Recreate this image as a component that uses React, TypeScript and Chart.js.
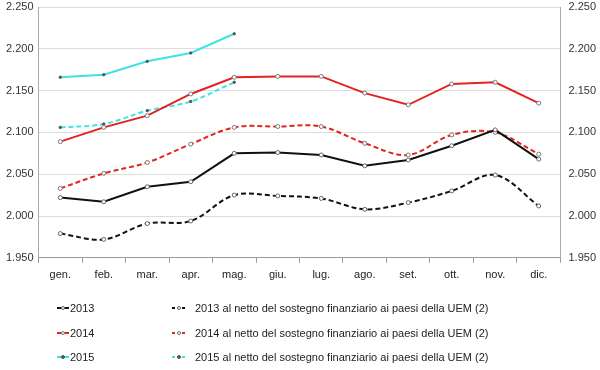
import React, { useEffect, useRef } from "react";
import { Chart, registerables } from "chart.js";

Chart.register(...registerables);

const months = ["gen.", "feb.", "mar.", "apr.", "mag.", "giu.", "lug.", "ago.", "set.", "ott.", "nov.", "dic."];
const y2013 = [2022, 2017, 2035, 2041, 2075, 2076, 2073, 2060, 2067, 2084, 2103, 2068];
const y2014 = [2089, 2106, 2120, 2146, 2166, 2167, 2167, 2147, 2133, 2158, 2160, 2135];
const y2015 = [2166, 2169, 2185, 2195, 2218, null, null, null, null, null, null, null];
const n2013 = [1979, 1972, 1991, 1994, 2025, 2024, 2021, 2008, 2016, 2030, 2049, 2012];
const n2014 = [2033, 2051, 2064, 2086, 2106, 2107, 2107, 2087, 2073, 2097, 2100, 2074];
const n2015 = [2106, 2110, 2126, 2137, 2160, null, null, null, null, null, null, null];
const labels = [
  "2013",
  "2014",
  "2015",
  "2013 al netto del sostegno finanziario ai paesi della UEM (2)",
  "2014 al netto del sostegno finanziario ai paesi della UEM (2)",
  "2015 al netto del sostegno finanziario ai paesi della UEM (2)",
];

const BLACK = "#111111";
const RED = "#e2231f";
const CYAN = "#3fe3e3";

const fmt = (v: number) => {
  const t = Math.floor(v / 1000);
  const r = Math.round(v - t * 1000);
  return t + "." + String(r).padStart(3, "0");
};

const legendPlugin = {
  id: "customLegend",
  afterDraw(chart: any) {
    const ctx = chart.ctx;
    const ds = chart.data.datasets;
    const rows = [308, 333, 357];
    ctx.save();
    ctx.font = "11px Arial, 'Liberation Sans', sans-serif";
    ctx.textBaseline = "middle";
    ctx.fillStyle = "#222";
    ds.forEach((d: any, i: number) => {
      const col = i < 3 ? 0 : 1;
      const row = i % 3;
      const y = rows[row];
      const x0 = col === 0 ? 57 : 172;
      const x1 = col === 0 ? 69 : 186;
      ctx.strokeStyle = d.borderColor;
      ctx.lineWidth = 2;
      ctx.setLineDash(d.borderDash && d.borderDash.length ? [3, 2] : []);
      ctx.beginPath();
      ctx.moveTo(x0, y);
      ctx.lineTo(x1, y);
      ctx.stroke();
      ctx.setLineDash([]);
      ctx.beginPath();
      ctx.arc((x0 + x1) / 2, y, 1.5, 0, Math.PI * 2);
      ctx.fillStyle = d.pointBackgroundColor;
      ctx.fill();
      ctx.lineWidth = 1;
      ctx.strokeStyle = d.pointBorderColor;
      ctx.stroke();
      ctx.fillStyle = "#222";
      ctx.fillText(d.label, col === 0 ? 70 : 195, y + 1);
    });
    ctx.restore();
  },
};

const noVPad = (scale: any) => {
  scale.paddingTop = 0;
  scale.paddingBottom = 0;
};

export default function App() {
  const ref = useRef<HTMLCanvasElement | null>(null);
  useEffect(() => {
    document.body.style.margin = "0";
    const mk = (label: string, data: any[], color: string, dashed: boolean, pbg: string, pbc: string, r: number) => ({
      label,
      data,
      borderColor: color,
      backgroundColor: color,
      borderWidth: 2,
      borderDash: dashed ? [5, 3] : [],
      tension: dashed ? 0.35 : 0,
      pointRadius: r,
      pointBackgroundColor: pbg,
      pointBorderColor: pbc,
      pointBorderWidth: 1,
      spanGaps: false,
      yAxisID: "y",
    });
    const chart = new Chart(ref.current as HTMLCanvasElement, {
      type: "line",
      data: {
        labels: months,
        datasets: [
          mk(labels[0], y2013, BLACK, false, "#ffffff", "#666666", 2),
          mk(labels[1], y2014, RED, false, "#ffffff", "#777777", 2),
          mk(labels[2], y2015, CYAN, false, "#555555", "#555555", 1.2),
          mk(labels[3], n2013, BLACK, true, "#ffffff", "#666666", 2),
          mk(labels[4], n2014, RED, true, "#ffffff", "#777777", 2),
          mk(labels[5], n2015, CYAN, true, "#555555", "#555555", 1.2),
        ],
      },
      options: {
        animation: false,
        responsive: false,
        maintainAspectRatio: false,
        layout: { padding: { left: 1, right: -4, top: 7, bottom: 82 } },
        plugins: { legend: { display: false }, tooltip: { enabled: false } },
        scales: {
          x: {
            offset: true,
            grid: { display: true, drawOnChartArea: false, drawTicks: true, tickLength: 5, color: "#999999", offset: true },
            border: { display: true, color: "#999999" },
            ticks: { color: "#222", font: { family: "Arial, 'Liberation Sans', sans-serif", size: 11 }, padding: 6, maxRotation: 0, autoSkip: false },
          },
          y: {
            position: "left",
            min: 1950,
            max: 2250,
            afterFit: noVPad,
            grid: { color: "#dddddd", drawTicks: false },
            border: { display: true, color: "#aaaaaa" },
            ticks: { stepSize: 50, padding: 5, color: "#333", font: { family: "Arial, 'Liberation Sans', sans-serif", size: 11 }, callback: (v: any) => fmt(Number(v)) },
          },
          y2: {
            position: "right",
            min: 1950,
            max: 2250,
            afterFit: noVPad,
            grid: { display: false, drawTicks: false },
            border: { display: true, color: "#aaaaaa" },
            ticks: { stepSize: 50, padding: 8, color: "#333", font: { family: "Arial, 'Liberation Sans', sans-serif", size: 11 }, callback: (v: any) => fmt(Number(v)) },
          },
        },
      },
      plugins: [legendPlugin],
    });
    return () => chart.destroy();
  }, []);
  return <canvas ref={ref} width={600} height={370} style={{ display: "block" }} />;
}
